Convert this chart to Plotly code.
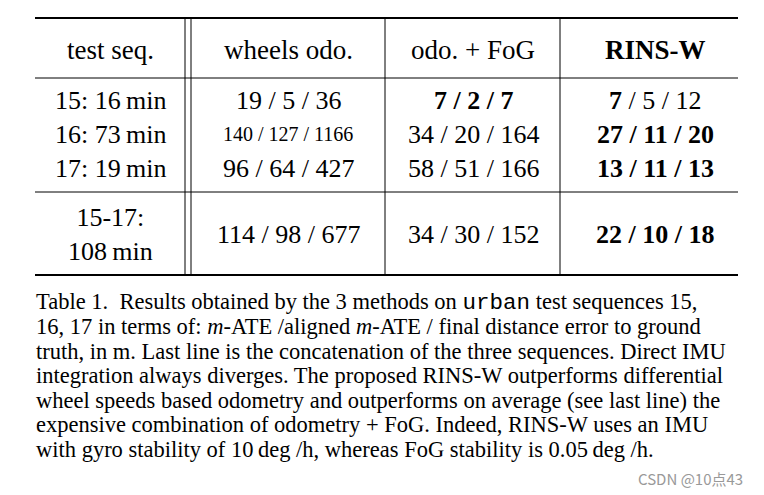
import plotly.graph_objects as go

headers = ["test seq.", "wheels odo.", "odo. + FoG", "<b>RINS-W</b>"]
seqs = ["15: 16\u2009min", "16: 73\u2009min", "17: 19\u2009min", "15-17:<br>108\u2009min"]
wheels = ["19 / 5 / 36", "<span style='font-size:20px'>140 / 127 / 1166</span>", "96 / 64 / 427", "114 / 98 / 677"]
fog = ["<b>7 / 2 / 7</b>", "34 / 20 / 164", "58 / 51 / 166", "34 / 30 / 152"]
rins = ["<b>7</b> / 5 / 12", "<b>27 / 11 / 20</b>", "<b>13 / 11 / 13</b>", "<b>22 / 10 / 18</b>"]
caption = [
    "Table 1.  Results obtained by the 3 methods on <span style='font-family:Liberation Mono'>urban</span> test sequences 15,",
    "16, 17 in terms of: <i>m</i>-ATE /aligned <i>m</i>-ATE / final distance error to ground",
    "truth, in m. Last line is the concatenation of the three sequences. Direct IMU",
    "integration always diverges. The proposed RINS-W outperforms differential",
    "wheel speeds based odometry and outperforms on average (see last line) the",
    "expensive combination of odometry + FoG. Indeed, RINS-W uses an IMU",
    "with gyro stability of 10\u2009deg /h, whereas FoG stability is 0.05\u2009deg /h.",
]

O = 8  # page body offset
col_x = [110, 288, 473, 655]
row_y = [100, 134, 168, 234]
F = "Liberation Serif"

fig = go.Figure()
ann = []
for x, h in zip(col_x, headers):
    ann.append(dict(x=x - O, y=50 - O, text=h, font=dict(size=27)))
for i, y in enumerate(row_y):
    for x, col in zip(col_x, [seqs, wheels, fog, rins]):
        ann.append(dict(x=x - O, y=y - O, text=col[i], font=dict(size=26)))
for i, line in enumerate(caption):
    ann.append(dict(x=34 - O, y=302 - O + i * 24.5, text=line, xanchor="left", font=dict(size=22.5)))
ann.append(dict(x=745 - O, y=478 - O, text="CSDN @10点43", xanchor="right",
                font=dict(size=15, color="#999", family="Noto Sans CJK SC")))
for a in ann:
    a.setdefault("xanchor", "center")
    a["xref"] = "x"; a["yref"] = "y"; a["showarrow"] = False
    a["font"].setdefault("family", F); a["font"].setdefault("color", "black")
fig.update_layout(annotations=ann)

shapes = []
for y, w in [(18, 2), (78, 1), (192, 1), (275, 2)]:
    shapes.append(dict(type="line", x0=35 - O, x1=738 - O, y0=y - O, y1=y - O, line=dict(color="black", width=w)))
for x in [185, 191, 385, 560]:
    shapes.append(dict(type="line", x0=x - O, x1=x - O, y0=18 - O, y1=275 - O, line=dict(color="black", width=1)))
fig.update_layout(shapes=shapes)

fig.update_xaxes(range=[0, 764], visible=False)
fig.update_yaxes(range=[495, 0], visible=False)
fig.update_layout(width=764, height=495, margin=dict(l=0, r=0, t=0, b=0),
                  plot_bgcolor="white", paper_bgcolor="white")
fig.write_html("out.html")
